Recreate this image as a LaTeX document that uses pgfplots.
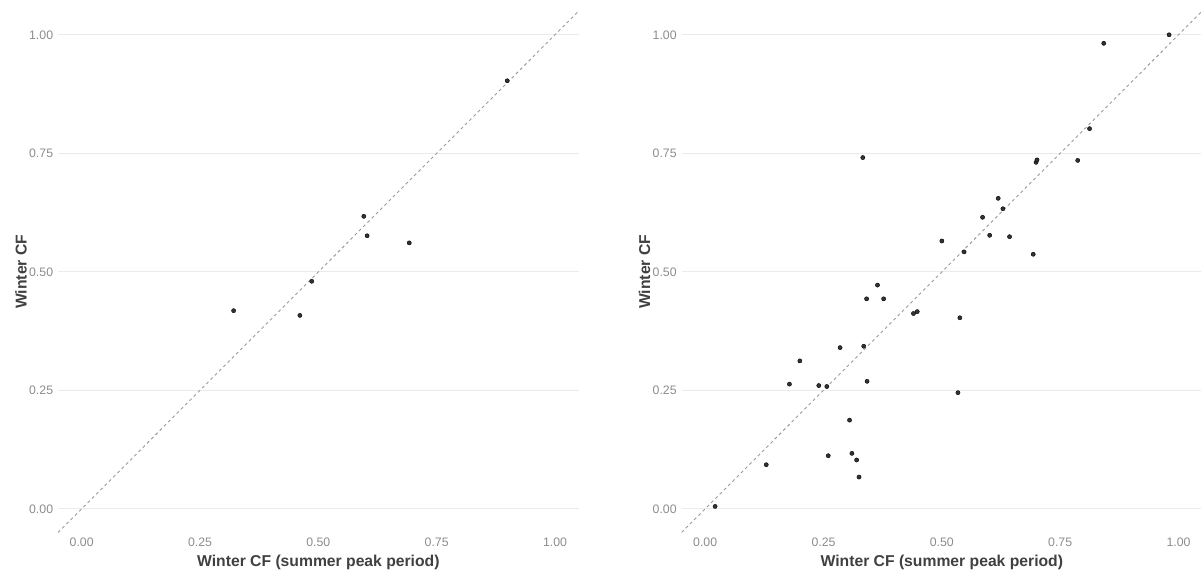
\documentclass[border=0pt]{standalone}
\usepackage{fontspec}
\setmainfont{Liberation Sans}
\usepackage{pgfplots}
\pgfplotsset{compat=1.18}
\definecolor{gridc}{HTML}{EBEBEB}
\definecolor{tickc}{HTML}{8C8C8C}
\definecolor{titlec}{HTML}{404040}
\definecolor{ptc}{HTML}{333333}
\definecolor{linec}{HTML}{9A9A9A}

\pgfplotstableread{
x y
0.321 0.418
0.461 0.408
0.486 0.480
0.596 0.617
0.603 0.576
0.692 0.561
0.899 0.903
}\left

\pgfplotstableread{
x y
0.021 0.005
0.129 0.093
0.178 0.263
0.200 0.312
0.240 0.260
0.257 0.258
0.260 0.112
0.285 0.340
0.305 0.187
0.310 0.117
0.320 0.103
0.325 0.067
0.333 0.741
0.335 0.343
0.341 0.443
0.342 0.269
0.364 0.472
0.377 0.443
0.440 0.412
0.448 0.416
0.500 0.565
0.534 0.245
0.538 0.403
0.547 0.542
0.586 0.615
0.601 0.577
0.619 0.655
0.629 0.633
0.643 0.574
0.693 0.537
0.699 0.731
0.701 0.736
0.787 0.735
0.812 0.802
0.842 0.982
0.980 1.000
}\right

\pgfplotsset{
  panel/.style={
    scale only axis, width=520.7pt, height=521.4pt,
    xmin=-0.05, xmax=1.05, ymin=-0.05, ymax=1.05,
    axis line style={draw=none},
    major tick length=0pt,
    xtick={0,0.25,0.5,0.75,1}, ytick={0,0.25,0.5,0.75,1},
    xticklabels={0.00,0.25,0.50,0.75,1.00},
    yticklabels={0.00,0.25,0.50,0.75,1.00},
    ymajorgrids, xmajorgrids=false,
    grid style={gridc, line width=1pt},
    tick label style={font=\fontsize{12.3}{14}\selectfont, text=tickc},
    xticklabel style={anchor=center, inner sep=0pt, yshift=-10pt},
    yticklabel style={anchor=east, inner sep=0pt, xshift=-4.7pt},
    xlabel={Winter CF (summer peak period)},
    ylabel={Winter CF},
    every axis x label/.style={at={(axis description cs:0.5,-0.0652)}, anchor=base,
      font=\fontsize{15.7}{18}\selectfont\bfseries, text=titlec},
    every axis y label/.style={at={(axis description cs:-0.0601,0.5)}, rotate=90, anchor=base,
      font=\fontsize{15.7}{18}\selectfont\bfseries, text=titlec},
    clip=true,
  },
  pts/.style={only marks, mark=*, mark size=2.1pt, mark options={fill=ptc, draw=none}},
  diag/.style={no marks, linec, line width=0.9pt, dash pattern=on 3pt off 3pt},
}

\begin{document}
\begin{tikzpicture}
\useasboundingbox (0,0) rectangle (1201pt,573pt);
\begin{axis}[panel, at={(58pt,40.5pt)}, anchor=south west]
  \addplot[diag] coordinates {(-0.05,-0.05) (1.05,1.05)};
  \addplot[pts] table[x=x,y=y] {\left};
\end{axis}
\begin{axis}[panel, at={(681.5pt,40.5pt)}, anchor=south west]
  \addplot[diag] coordinates {(-0.05,-0.05) (1.05,1.05)};
  \addplot[pts] table[x=x,y=y] {\right};
\end{axis}
\end{tikzpicture}
\end{document}
